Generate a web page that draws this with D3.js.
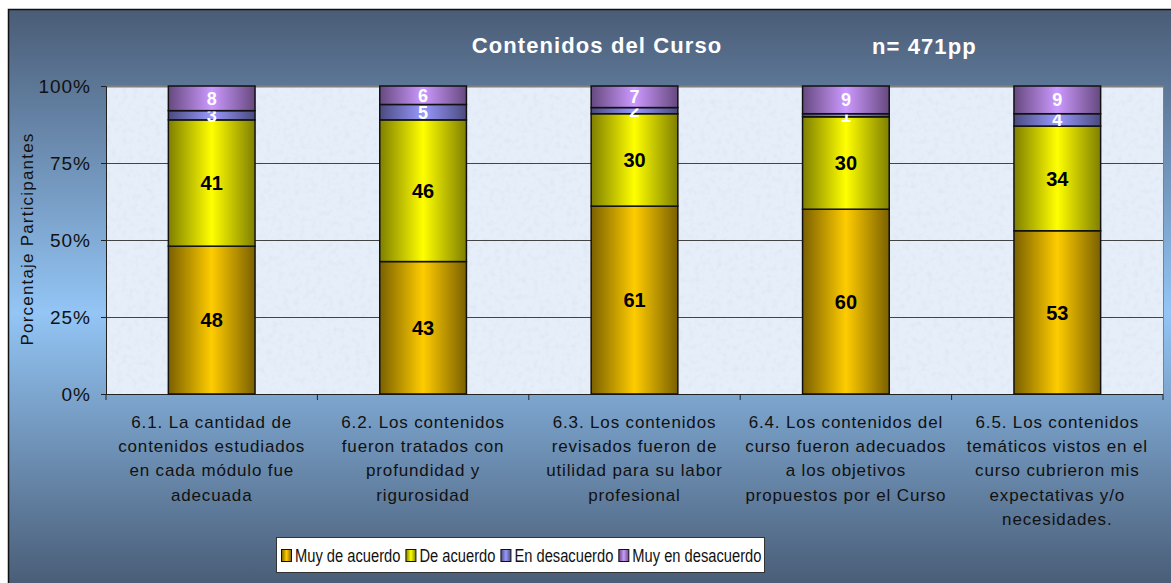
<!DOCTYPE html>
<html>
<head>
<meta charset="utf-8">
<script src="https://cdn.jsdelivr.net/npm/d3@7"></script>
<style>
  body { margin: 0; background: #fff; }
  svg { display: block; font-family: Arial, "Liberation Sans", sans-serif; }
</style>
</head>
<body>
<div id="chart"></div>
<script>
var categories = [
  ['6.1. La cantidad de', 'contenidos estudiados', 'en cada módulo fue', 'adecuada'],
  ['6.2. Los contenidos', 'fueron tratados con', 'profundidad y', 'rigurosidad'],
  ['6.3. Los contenidos', 'revisados fueron de', 'utilidad para su labor', 'profesional'],
  ['6.4. Los contenidos del', 'curso fueron adecuados', 'a los objetivos', 'propuestos por el Curso'],
  ['6.5. Los contenidos', 'temáticos vistos en el', 'curso cubrieron mis', 'expectativas y/o', 'necesidades.']
];
var seriesNames = ['Muy de acuerdo', 'De acuerdo', 'En desacuerdo', 'Muy en desacuerdo'];
var muyDeAcuerdo = [48, 43, 61, 60, 53];
var deAcuerdo = [41, 46, 30, 30, 34];
var enDesacuerdo = [3, 5, 2, 1, 4];
var muyEnDesacuerdo = [8, 6, 7, 9, 9];
var yTicks = [0, 25, 50, 75, 100];

var colors = [
  { mid: '#ffcc00', edge: '#7a6000' },
  { mid: '#ffff00', edge: '#7f7f00' },
  { mid: '#9999ff', edge: '#4a4a7f' },
  { mid: '#cc99ff', edge: '#66497f' }
];
var labelColors = ['#000', '#000', '#fff', '#fff'];

var W = 1171, H = 583;
var svg = d3.select('#chart').append('svg').attr('width', W).attr('height', H);
var defs = svg.append('defs');

var bg = defs.append('linearGradient').attr('id', 'bg').attr('x1', 0).attr('y1', 0).attr('x2', 0).attr('y2', 1);
bg.append('stop').attr('offset', '0%').attr('stop-color', '#4a5c76');
bg.append('stop').attr('offset', '52%').attr('stop-color', '#93c5f5');
bg.append('stop').attr('offset', '100%').attr('stop-color', '#475a73');

colors.forEach(function(c, i) {
  var g = defs.append('linearGradient').attr('id', 'bar' + i).attr('x1', 0).attr('y1', 0).attr('x2', 1).attr('y2', 0);
  g.append('stop').attr('offset', '0%').attr('stop-color', c.edge);
  g.append('stop').attr('offset', '50%').attr('stop-color', c.mid);
  g.append('stop').attr('offset', '100%').attr('stop-color', c.edge);
});

// mottled texture for the plot area
var tex = defs.append('filter').attr('id', 'tex').attr('x', 0).attr('y', 0).attr('width', 1).attr('height', 1);
tex.append('feTurbulence').attr('type', 'fractalNoise').attr('baseFrequency', 0.18).attr('numOctaves', 2).attr('seed', 4).attr('result', 'n');
tex.append('feColorMatrix').attr('in', 'n').attr('type', 'matrix')
  .attr('values', '0 0 0 0 0.55  0 0 0 0 0.62  0 0 0 0 0.75  0 0 0 -1.4 0.75').attr('result', 'c');
tex.append('feComposite').attr('in', 'c').attr('in2', 'SourceGraphic').attr('operator', 'in');

// frame
svg.append('rect')
  .attr('x', 8.5).attr('y', 9.5).attr('width', W).attr('height', H)
  .attr('fill', 'url(#bg)').attr('stroke', '#111').attr('stroke-width', 1.5);

var plot = { left: 106, top: 86, right: 1163, bottom: 394 };

var x = d3.scaleBand().domain(d3.range(categories.length))
  .range([plot.left, plot.right]).paddingInner(0.59).paddingOuter(0.295);
var y = d3.scaleLinear().domain([0, 100]).range([plot.bottom, plot.top]);

svg.append('rect')
  .attr('x', plot.left).attr('y', plot.top)
  .attr('width', plot.right - plot.left).attr('height', plot.bottom - plot.top)
  .attr('fill', '#e6eef9');
svg.append('rect')
  .attr('x', plot.left).attr('y', plot.top)
  .attr('width', plot.right - plot.left).attr('height', plot.bottom - plot.top)
  .attr('fill', '#fff').attr('filter', 'url(#tex)').attr('opacity', 0.35);
svg.append('line').attr('x1', plot.right + 0.5).attr('x2', plot.right + 0.5)
  .attr('y1', plot.top).attr('y2', plot.bottom).attr('stroke', '#808080');

// gridlines
svg.append('g').selectAll('line').data(yTicks.filter(function(d) { return d > 0; }))
  .enter().append('line')
  .attr('x1', plot.left).attr('x2', plot.right)
  .attr('y1', function(d) { return y(d) + 0.5; }).attr('y2', function(d) { return y(d) + 0.5; })
  .attr('stroke', function(d) { return d === 100 ? '#808080' : '#444'; })
  .attr('stroke-width', function(d) { return d === 100 ? 2 : 1; });

// y axis
var yAxis = svg.append('g').attr('transform', 'translate(' + plot.left + ',0)')
  .call(d3.axisLeft(y).tickValues(yTicks).tickFormat(function(d) { return d + '%'; }).tickSize(5).tickPadding(10));
yAxis.select('.domain').attr('stroke', '#222');
yAxis.selectAll('.tick line').attr('stroke', '#222');
yAxis.selectAll('text').attr('font-size', 19).attr('letter-spacing', 1).attr('fill', '#111')
  .attr('font-family', 'Arial, "Liberation Sans", sans-serif');

// x axis line + category boundary ticks
svg.append('line').attr('x1', plot.left).attr('x2', plot.right)
  .attr('y1', plot.bottom + 0.5).attr('y2', plot.bottom + 0.5).attr('stroke', '#222');
var step = x.step();
svg.append('g').selectAll('line').data(d3.range(categories.length + 1))
  .enter().append('line')
  .attr('x1', function(i) { return plot.left + i * step; })
  .attr('x2', function(i) { return plot.left + i * step; })
  .attr('y1', plot.bottom).attr('y2', plot.bottom + 6)
  .attr('stroke', '#222');

// stacked bars
var rows = categories.map(function(c, i) {
  return { i: i, v: [muyDeAcuerdo[i], deAcuerdo[i], enDesacuerdo[i], muyEnDesacuerdo[i]] };
});
var keys = [0, 1, 2, 3];
var stack = d3.stack().keys(keys).value(function(d, k) { return d.v[k]; });
var layers = stack(rows);

var lg = svg.append('g').selectAll('g').data(layers).enter().append('g');
lg.selectAll('rect').data(function(d) { return d; }).enter().append('rect')
  .attr('x', function(d) { return x(d.data.i); })
  .attr('width', x.bandwidth())
  .attr('y', function(d) { return y(d[1]); })
  .attr('height', function(d) { return y(d[0]) - y(d[1]); })
  .attr('fill', function(d) { return 'url(#bar' + d3.select(this.parentNode).datum().key + ')'; })
  .attr('stroke', '#111').attr('stroke-width', 1.5);

lg.selectAll('text').data(function(d) { return d.map(function(s) { s.key = d.key; return s; }); })
  .enter().append('text')
  .attr('x', function(d) { return x(d.data.i) + x.bandwidth() / 2; })
  .attr('y', function(d) { return (y(d[0]) + y(d[1])) / 2; })
  .attr('dy', '0.36em')
  .attr('text-anchor', 'middle')
  .attr('font-weight', 'bold')
  .attr('font-size', function(d) { return d.key >= 2 ? 18 : 20; })
  .attr('fill', function(d) { return labelColors[d.key]; })
  .text(function(d) { return d.data.v[d.key]; });

// category labels
var cl = svg.append('g').selectAll('text').data(categories).enter().append('text')
  .attr('x', function(d, i) { return x(i) + x.bandwidth() / 2; })
  .attr('y', 428)
  .attr('text-anchor', 'middle')
  .attr('font-size', 17)
  .attr('letter-spacing', 0.85)
  .attr('fill', '#111');
cl.selectAll('tspan').data(function(d) { return d; }).enter().append('tspan')
  .attr('x', function() { return d3.select(this.parentNode).attr('x'); })
  .attr('dy', function(d, j) { return j === 0 ? 0 : 24.2; })
  .text(function(d) { return d; });

// y title
svg.append('text')
  .attr('transform', 'translate(33,' + 239 + ') rotate(-90)')
  .attr('text-anchor', 'middle')
  .attr('font-size', 17).attr('letter-spacing', 1.2).attr('fill', '#111')
  .text('Porcentaje Participantes');

// titles
svg.append('text').attr('x', 597).attr('y', 53).attr('text-anchor', 'middle')
  .attr('font-size', 22).attr('letter-spacing', 1.1).attr('font-weight', 'bold').attr('fill', '#fff')
  .text('Contenidos del Curso');
svg.append('text').attr('x', 872).attr('y', 54)
  .attr('font-size', 22).attr('letter-spacing', 1.1).attr('font-weight', 'bold').attr('fill', '#fff')
  .text('n= 471pp');

// legend
var legend = svg.append('g');
legend.append('rect').attr('x', 276.5).attr('y', 537.5).attr('width', 488).attr('height', 35)
  .attr('fill', '#fff').attr('stroke', '#333');
var lx = 281;
seriesNames.forEach(function(name, i) {
  legend.append('rect').attr('x', lx + 0.5).attr('y', 549.5).attr('width', 10).attr('height', 12)
    .attr('fill', 'url(#bar' + i + ')').attr('stroke', '#111');
  var t = legend.append('text').attr('x', lx + 14).attr('y', 562)
    .attr('font-size', 17.5).attr('fill', '#111').text(name);
  var len = t.node().getComputedTextLength() * 0.84;
  t.attr('textLength', len).attr('lengthAdjust', 'spacingAndGlyphs');
  lx += 14 + len + 5;
});
</script>
</body>
</html>
